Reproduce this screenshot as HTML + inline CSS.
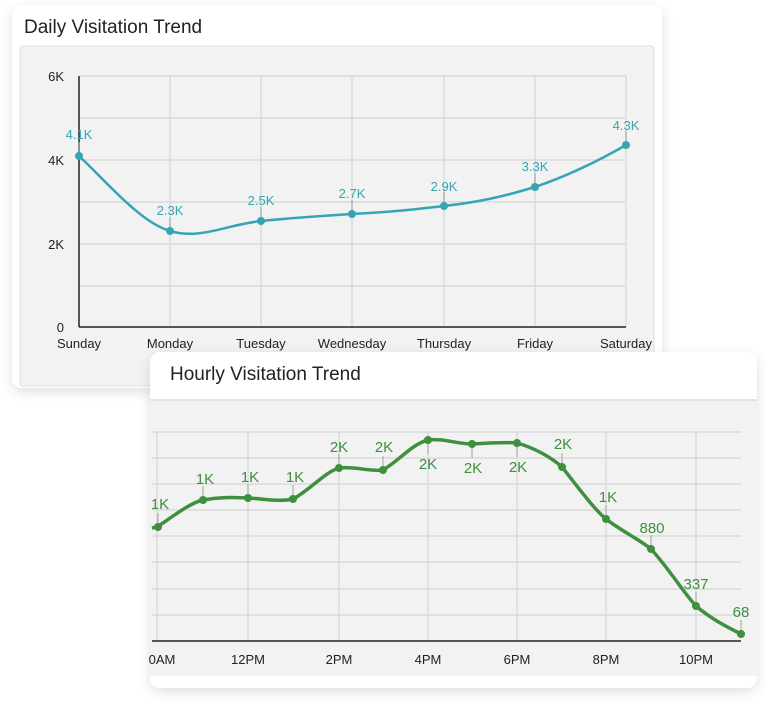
<!DOCTYPE html>
<html><head><meta charset="utf-8"><style>
html,body{margin:0;padding:0;background:#fff;width:778px;height:710px;overflow:hidden}
svg{display:block}
text{font-family:"Liberation Sans",sans-serif}
</style></head><body>
<svg width="778" height="710" viewBox="0 0 778 710" xmlns="http://www.w3.org/2000/svg">
<defs>
<filter id="sh" x="-10%" y="-10%" width="120%" height="130%"><feDropShadow dx="0" dy="4" stdDeviation="6" flood-color="#000" flood-opacity="0.12"/></filter>
</defs>
<!-- Card 1 -->
<rect x="12" y="5" width="650" height="383" rx="10" fill="#fff" filter="url(#sh)"/>
<text x="24" y="33" font-size="19" fill="#222">Daily Visitation Trend</text>
<rect x="20" y="46" width="634" height="340" rx="3" fill="#f2f2f2" stroke="#ddd"/>
<g stroke="#d6d6d6" stroke-width="1.2">
<line x1="79" y1="76" x2="626" y2="76"/><line x1="79" y1="118" x2="626" y2="118"/><line x1="79" y1="160" x2="626" y2="160"/><line x1="79" y1="202" x2="626" y2="202"/><line x1="79" y1="244" x2="626" y2="244"/><line x1="79" y1="286" x2="626" y2="286"/>
<line x1="170" y1="76" x2="170" y2="327"/><line x1="261" y1="76" x2="261" y2="327"/><line x1="352" y1="76" x2="352" y2="327"/><line x1="444" y1="76" x2="444" y2="327"/><line x1="535" y1="76" x2="535" y2="327"/><line x1="626" y1="76" x2="626" y2="327"/>
</g>
<line x1="79" y1="76" x2="79" y2="327" stroke="#222" stroke-width="1.5"/>
<line x1="79" y1="327" x2="626" y2="327" stroke="#222" stroke-width="1.5"/>
<g font-size="13" fill="#222" text-anchor="end">
<text x="64" y="81">6K</text><text x="64" y="165">4K</text><text x="64" y="249">2K</text><text x="64" y="332">0</text>
</g>
<g font-size="13" fill="#222" text-anchor="middle">
<text x="79" y="348">Sunday</text><text x="170" y="348">Monday</text><text x="261" y="348">Tuesday</text><text x="352" y="348">Wednesday</text><text x="444" y="348">Thursday</text><text x="535" y="348">Friday</text><text x="626" y="348">Saturday</text>
</g>
<g stroke="#8a9a9a" stroke-width="1">
<line x1="79" y1="142" x2="79" y2="156"/><line x1="170" y1="217" x2="170" y2="231"/><line x1="261" y1="207" x2="261" y2="221"/><line x1="352" y1="200" x2="352" y2="214"/><line x1="444" y1="192" x2="444" y2="206"/><line x1="535" y1="173" x2="535" y2="187"/><line x1="626" y1="131" x2="626" y2="145"/>
</g>
<path d="M79,156 C110,185 140,222 170,231 C200,240 225,225 261,221 C300,217 320,216 352,214 C390,212 410,210 444,206 C480,202 505,196 535,187 C570,175 600,160 626,145" fill="none" stroke="#35a5b4" stroke-width="2.5"/>
<g fill="#35a5b4"><circle cx="79" cy="156" r="4"/><circle cx="170" cy="231" r="4"/><circle cx="261" cy="221" r="4"/><circle cx="352" cy="214" r="4"/><circle cx="444" cy="206" r="4"/><circle cx="535" cy="187" r="4"/><circle cx="626" cy="145" r="4"/></g>
<g font-size="13" fill="#35a5b4" text-anchor="middle">
<text x="79" y="139">4.1K</text><text x="170" y="215">2.3K</text><text x="261" y="205">2.5K</text><text x="352" y="198">2.7K</text><text x="444" y="191">2.9K</text><text x="535" y="171">3.3K</text><text x="626" y="130">4.3K</text>
</g>
<!-- Card 2 -->
<rect x="150" y="352" width="607" height="336" rx="10" fill="#fff" filter="url(#sh)"/>
<text x="170" y="380" font-size="19" fill="#222">Hourly Visitation Trend</text>
<rect x="150" y="400" width="607" height="276" fill="#f2f2f2"/>
<line x1="150" y1="400" x2="757" y2="400" stroke="#e2e2e2" stroke-width="2"/>
<g stroke="#d6d6d6" stroke-width="1.2">
<line x1="152" y1="432" x2="741" y2="432"/><line x1="152" y1="458" x2="741" y2="458"/><line x1="152" y1="484" x2="741" y2="484"/><line x1="152" y1="510" x2="741" y2="510"/><line x1="152" y1="536" x2="741" y2="536"/><line x1="152" y1="562" x2="741" y2="562"/><line x1="152" y1="589" x2="741" y2="589"/><line x1="152" y1="615" x2="741" y2="615"/>
<line x1="157" y1="432" x2="157" y2="641"/><line x1="248" y1="432" x2="248" y2="641"/><line x1="339" y1="432" x2="339" y2="641"/><line x1="428" y1="432" x2="428" y2="641"/><line x1="517" y1="432" x2="517" y2="641"/><line x1="606" y1="432" x2="606" y2="641"/><line x1="696" y1="432" x2="696" y2="641"/>
</g>
<line x1="152" y1="641" x2="741" y2="641" stroke="#222" stroke-width="1.5"/>
<g font-size="13" fill="#222" text-anchor="middle">
<text x="162" y="664">0AM</text><text x="248" y="664">12PM</text><text x="339" y="664">2PM</text><text x="428" y="664">4PM</text><text x="517" y="664">6PM</text><text x="606" y="664">8PM</text><text x="696" y="664">10PM</text>
</g>
<g stroke="#9aa89a" stroke-width="1">
<line x1="158" y1="513" x2="158" y2="527"/><line x1="203" y1="486" x2="203" y2="500"/><line x1="248" y1="484" x2="248" y2="498"/><line x1="293" y1="485" x2="293" y2="499"/><line x1="339" y1="454" x2="339" y2="468"/><line x1="383" y1="456" x2="383" y2="470"/><line x1="428" y1="440" x2="428" y2="454"/><line x1="472" y1="444" x2="472" y2="458"/><line x1="517" y1="443" x2="517" y2="457"/><line x1="562" y1="453" x2="562" y2="467"/><line x1="606" y1="505" x2="606" y2="519"/><line x1="651" y1="535" x2="651" y2="549"/><line x1="696" y1="592" x2="696" y2="606"/><line x1="741" y1="620" x2="741" y2="634"/>
</g>
<path d="M152,528 L157,527 C175,515 190,503 203,500 C225,496 240,498 248,498 C265,499 280,502 293,499 C310,490 325,472 339,468 C355,466 370,472 383,470 C400,460 412,444 428,440 C442,438 458,444 472,444 C490,443 505,442 517,443 C535,448 552,458 562,467 C580,490 595,510 606,519 C620,530 640,540 651,549 C670,570 683,592 696,606 C710,618 725,626 741,634" fill="none" stroke="#3e8f3e" stroke-width="3.5"/>
<g fill="#3e8f3e"><circle cx="158" cy="527" r="4"/><circle cx="203" cy="500" r="4"/><circle cx="248" cy="498" r="4"/><circle cx="293" cy="499" r="4"/><circle cx="339" cy="468" r="4"/><circle cx="383" cy="470" r="4"/><circle cx="428" cy="440" r="4"/><circle cx="472" cy="444" r="4"/><circle cx="517" cy="443" r="4"/><circle cx="562" cy="467" r="4"/><circle cx="606" cy="519" r="4"/><circle cx="651" cy="549" r="4"/><circle cx="696" cy="606" r="4"/><circle cx="741" cy="634" r="4"/></g>
<g font-size="15" fill="#3e8f3e" text-anchor="middle">
<text x="160" y="509">1K</text><text x="205" y="484">1K</text><text x="250" y="482">1K</text><text x="295" y="482">1K</text><text x="339" y="452">2K</text><text x="384" y="452">2K</text><text x="428" y="469">2K</text><text x="473" y="473">2K</text><text x="518" y="472">2K</text><text x="563" y="449">2K</text><text x="608" y="502">1K</text><text x="652" y="533">880</text><text x="696" y="589">337</text><text x="741" y="617">68</text>
</g>
</svg>
</body></html>
